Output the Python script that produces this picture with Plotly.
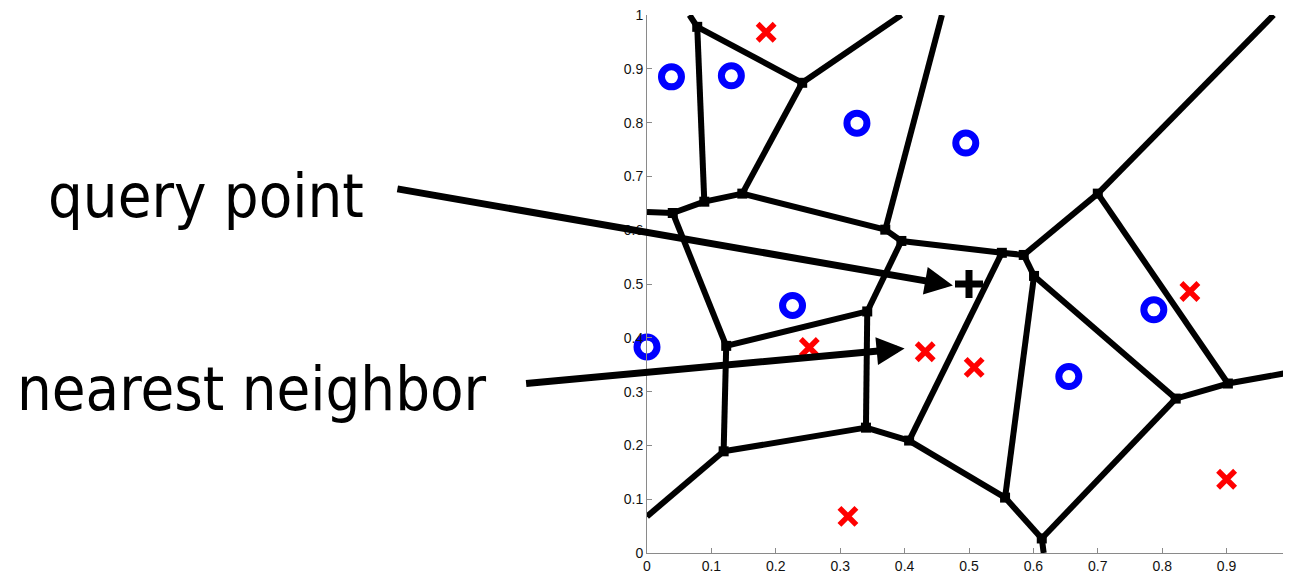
import plotly.graph_objects as go

# ---- data ----
# class "o" training points (blue circles)
circle_x = [0.038, 0.131, 0.326, 0.495, 0.226, 0.000, 0.787, 0.655]
circle_y = [0.885, 0.887, 0.799, 0.762, 0.460, 0.383, 0.452, 0.328]
# class "x" training points (red crosses)
cross_x = [0.185, 0.252, 0.432, 0.508, 0.843, 0.900, 0.312]
cross_y = [0.968, 0.382, 0.374, 0.345, 0.486, 0.137, 0.068]
# query point
query_x = [0.500]
query_y = [0.500]

# Voronoi vertices (interior)
vertex_names = ["A", "B", "C", "D", "E", "F", "H", "I", "K", "M", "N",
                "O", "Q", "R", "P", "L", "S", "J", "G", "T"]
vertex_x = [0.078, 0.241, 0.089, 0.148, 0.040, 0.370, 0.395, 0.551, 0.585, 0.700, 0.601,
            0.902, 0.821, 0.613, 0.556, 0.407, 0.340, 0.342, 0.123, 0.119]
vertex_y = [0.978, 0.874, 0.653, 0.668, 0.632, 0.601, 0.580, 0.558, 0.554, 0.668, 0.515,
            0.315, 0.287, 0.027, 0.103, 0.209, 0.233, 0.449, 0.385, 0.189]
# points where unbounded Voronoi edges leave the frame
border_names = ["tA", "tB", "tF", "tM", "rO", "bR", "lT", "lE"]
border_x = [0.066, 0.395, 0.458, 0.973, 1.000, 0.616, 0.000, 0.000]
border_y = [1.000, 1.000, 1.000, 1.000, 0.336, 0.000, 0.068, 0.634]
# Voronoi edges
edges = [("A", "tA"), ("A", "B"), ("A", "C"), ("B", "tB"), ("B", "D"), ("C", "D"),
         ("C", "E"), ("E", "lE"), ("E", "G"), ("D", "F"), ("F", "tF"), ("F", "H"),
         ("H", "I"), ("H", "J"), ("I", "K"), ("I", "L"), ("K", "M"), ("K", "N"),
         ("M", "tM"), ("M", "O"), ("N", "P"), ("N", "Q"), ("O", "Q"), ("O", "rO"),
         ("Q", "R"), ("R", "bR"), ("R", "P"), ("P", "L"), ("L", "S"), ("S", "J"),
         ("S", "T"), ("J", "G"), ("G", "T"), ("T", "lT")]

tick_vals = [0, 0.1, 0.2, 0.3, 0.4, 0.5, 0.6, 0.7, 0.8, 0.9, 1]
tick_text = ["0", "0.1", "0.2", "0.3", "0.4", "0.5", "0.6", "0.7", "0.8", "0.9", "1"]

# ---- build figure ----
pos = {}
for n, x, y in zip(vertex_names, vertex_x, vertex_y):
    pos[n] = (x, y)
for n, x, y in zip(border_names, border_x, border_y):
    pos[n] = (x, y)

ex, ey = [], []
for a, b in edges:
    ex += [pos[a][0], pos[b][0], None]
    ey += [pos[a][1], pos[b][1], None]

fig = go.Figure()
fig.add_trace(go.Scatter(x=ex, y=ey, mode="lines",
                         line=dict(color="black", width=6), hoverinfo="skip"))
fig.add_trace(go.Scatter(x=vertex_x, y=vertex_y, mode="markers",
                         marker=dict(symbol="square", size=10, color="black")))
fig.add_trace(go.Scatter(x=circle_x, y=circle_y, mode="markers", cliponaxis=False,
                         marker=dict(symbol="circle-open", size=20, color="#0000ff",
                                     line=dict(width=7, color="#0000ff"))))
fig.add_trace(go.Scatter(x=cross_x, y=cross_y, mode="markers", cliponaxis=False,
                         marker=dict(symbol="x-thin-open", size=17, color="#ff0000",
                                     line=dict(width=5.5, color="#ff0000"))))
fig.add_trace(go.Scatter(x=query_x, y=query_y, mode="markers", cliponaxis=False,
                         marker=dict(symbol="cross-thin-open", size=20, color="black",
                                     line=dict(width=7, color="black"))))

label_font = dict(family="DejaVu Sans Condensed, Liberation Sans Narrow, Arial Narrow, sans-serif",
                  size=61, color="black")

fig.add_annotation(text="query point", xref="paper", yref="paper",
                   x=-0.934, y=0.665, xanchor="left", yanchor="middle",
                   showarrow=False, font=label_font)
fig.add_annotation(text="nearest neighbor", xref="paper", yref="paper",
                   x=-0.982, y=0.305, xanchor="left", yanchor="middle",
                   showarrow=False, font=label_font)
fig.add_annotation(text="", x=0.475, y=0.497, xref="x", yref="y",
                   ax=-557, ay=-97, showarrow=True, arrowhead=2,
                   arrowwidth=7, arrowsize=0.8, arrowcolor="black")
fig.add_annotation(text="", x=0.400, y=0.380, xref="x", yref="y",
                   ax=-380, ay=35, showarrow=True, arrowhead=2,
                   arrowwidth=7, arrowsize=0.8, arrowcolor="black")

axis_common = dict(showline=True, linecolor="#8a8a8a", linewidth=1,
                   ticks="inside", ticklen=5, tickcolor="#8a8a8a",
                   showgrid=False, zeroline=False, automargin=False,
                   tickvals=tick_vals, ticktext=tick_text,
                   ticklabeloverflow="allow",
                   tickfont=dict(family="Liberation Sans, Arial, sans-serif", size=14, color="#111"))
fig.update_xaxes(range=[0, 1], **axis_common)
fig.update_yaxes(range=[0, 1], **axis_common)

# the page body adds an 8px offset, compensated in the margins
fig.update_layout(width=1283, height=565, showlegend=False,
                  margin=dict(l=639, r=0, t=7, b=20),
                  paper_bgcolor="white", plot_bgcolor="white")

fig.write_html("out.html")
